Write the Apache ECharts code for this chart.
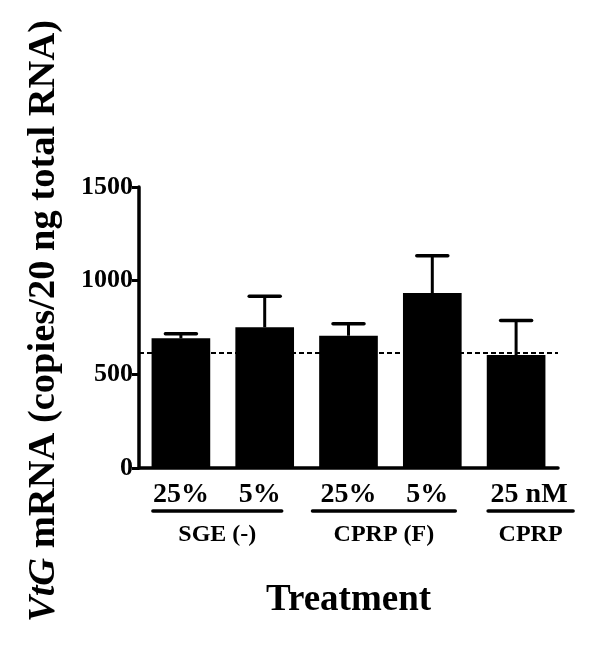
<!DOCTYPE html>
<html>
<head>
<meta charset="utf-8">
<script src="https://cdn.jsdelivr.net/npm/echarts@6/dist/echarts.min.js"></script>
<style>
html,body{margin:0;padding:0;background:#fff;}
#chart{width:600px;height:646px;}
</style>
</head>
<body>
<div id="chart"></div>
<script>
// ---- data ----
const categories = ['25%', '5%', '25%', '5%', '25 nM'];
const meanValues = [692, 751, 706, 934, 603];
const semValues = [25, 166, 64, 199, 185];
const controlLevel = 615;
const yTicks = [0, 500, 1000, 1500];
const groups = [
  { label: 'SGE (-)', from: 0, to: 1 },
  { label: 'CPRP (F)', from: 2, to: 3 },
  { label: 'CPRP', from: 4, to: 4 }
];
const yTitleItalic = 'VtG';
const yTitleRest = ' mRNA (copies/20 ng total RNA)';
const xTitle = 'Treatment';

// ---- style ----
const FONT = 'Liberation Serif';
const underlinePad = [[-28, 17], [-36, 23], [-28, 57]];
const labelShift = [0, -6, 0, -4, 13];

const chart = echarts.init(document.getElementById('chart'));

const errData = meanValues.map((v, i) => [i, v, semValues[i]]);

const option = {
  backgroundColor: '#fff',
  animation: false,
  grid: { left: 139, right: 42, top: 187, bottom: 178 },
  xAxis: {
    type: 'category',
    data: categories,
    axisLine: { lineStyle: { color: '#000', width: 3.5 } },
    axisTick: { alignWithLabel: true, length: 8, lineStyle: { color: '#000', width: 3 } },
    axisLabel: {
      color: '#000', fontFamily: FONT, fontWeight: 'bold', fontSize: 28, margin: 13,
      interval: 0,
      formatter: function (v, i) {
        const s = labelShift[i];
        return s > 0 ? '{r|' + v + '}' : (s < 0 ? '{l|' + v + '}' : v);
      },
      rich: {
        r: { fontFamily: FONT, fontWeight: 'bold', fontSize: 28, color: '#000', padding: [0, 0, 0, 26] },
        l: { fontFamily: FONT, fontWeight: 'bold', fontSize: 28, color: '#000', padding: [0, 10, 0, 0] }
      }
    },
    splitLine: { show: false }
  },
  yAxis: {
    type: 'value',
    min: yTicks[0],
    max: yTicks[yTicks.length - 1],
    interval: 500,
    axisLine: { show: true, lineStyle: { color: '#000', width: 3.5 } },
    axisTick: { show: true, length: 7, lineStyle: { color: '#000', width: 3 } },
    axisLabel: {
      color: '#000', fontFamily: FONT, fontWeight: 'bold', fontSize: 26, margin: 6,
      formatter: function (v) { return String(v); }
    },
    splitLine: { show: false }
  },
  series: [
    {
      type: 'bar',
      data: meanValues,
      barWidth: '70%',
      itemStyle: { color: '#000' },
      markLine: {
        silent: true,
        symbol: 'none',
        label: { show: false },
        lineStyle: { color: '#000', type: [5, 3], width: 2.2 },
        data: [{ yAxis: controlLevel }]
      },
      z: 2
    },
    {
      type: 'custom',
      data: errData,
      z: 3,
      renderItem: function (params, api) {
        const x = api.value(0), y = api.value(1), e = api.value(2);
        const base = api.coord([x, y]);
        const top = api.coord([x, y + e]);
        const hw = 15.5;
        return {
          type: 'group',
          children: [
            { type: 'line', shape: { x1: base[0], y1: base[1], x2: top[0], y2: top[1] },
              style: { stroke: '#000', lineWidth: 3 } },
            { type: 'line', shape: { x1: top[0] - hw, y1: top[1], x2: top[0] + hw, y2: top[1] },
              style: { stroke: '#000', lineWidth: 3.5, lineCap: 'round' } }
          ]
        };
      }
    }
  ]
};
chart.setOption(option);

// ---- group underlines and labels, placed from the category scale ----
const gfx = [];
const baseY = chart.convertToPixel({ yAxisIndex: 0 }, 0);
groups.forEach((g, k) => {
  const x1 = chart.convertToPixel({ xAxisIndex: 0 }, g.from) + underlinePad[k][0];
  const x2 = chart.convertToPixel({ xAxisIndex: 0 }, g.to) + underlinePad[k][1];
  gfx.push({
    type: 'line',
    shape: { x1: x1, y1: baseY + 43, x2: x2, y2: baseY + 43 },
    style: { stroke: '#000', lineWidth: 3.5, lineCap: 'round' }
  });
  gfx.push({
    type: 'text',
    x: (x1 + x2) / 2,
    y: baseY + 67,
    style: {
      text: g.label, fill: '#000', fontFamily: FONT, fontWeight: 'bold', fontSize: 24,
      align: 'center', verticalAlign: 'middle'
    }
  });
});
const cx = (chart.convertToPixel({ xAxisIndex: 0 }, 0) + chart.convertToPixel({ xAxisIndex: 0 }, categories.length - 1)) / 2;
gfx.push({
  type: 'text',
  x: cx,
  y: baseY + 132,
  style: {
    text: xTitle, fill: '#000', fontFamily: FONT, fontWeight: 'bold', fontSize: 37,
    align: 'center', verticalAlign: 'middle'
  }
});
gfx.push({
  type: 'text',
  x: 44,
  y: 321,
  rotation: Math.PI / 2,
  style: {
    text: '{i|' + yTitleItalic + '}{n|' + yTitleRest + '}',
    align: 'center', verticalAlign: 'middle',
    rich: {
      i: { fontFamily: FONT, fontWeight: 'bold', fontStyle: 'italic', fontSize: 38.5, fill: '#000' },
      n: { fontFamily: FONT, fontWeight: 'bold', fontSize: 38.5, fill: '#000' }
    }
  }
});
chart.setOption({ graphic: gfx });
</script>
</body>
</html>
